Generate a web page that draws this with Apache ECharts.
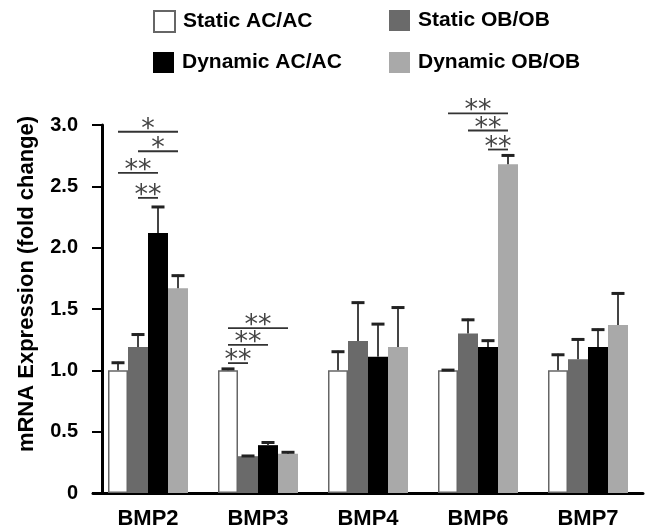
<!DOCTYPE html>
<html>
<head>
<meta charset="utf-8">
<script src="https://cdn.jsdelivr.net/npm/echarts@6/dist/echarts.min.js"></script>
<style>
html, body { margin: 0; padding: 0; background: #fff; }
#main { width: 649px; height: 529px; }
</style>
</head>
<body>
<div id="main"></div>
<script>
const genes = ["BMP2", "BMP3", "BMP4", "BMP6", "BMP7"];
const groups = ["Static AC/AC", "Static OB/OB", "Dynamic AC/AC", "Dynamic OB/OB"];

// means and upper SD
const staticAC = [1.0, 1.0, 1.0, 1.0, 1.0];
const staticACErr = [0.07, 0.02, 0.16, 0.01, 0.135];
const staticOB = [1.19, 0.30, 1.24, 1.30, 1.09];
const staticOBErr = [0.11, 0.01, 0.32, 0.12, 0.17];
const dynamicAC = [2.12, 0.39, 1.11, 1.19, 1.19];
const dynamicACErr = [0.22, 0.03, 0.275, 0.06, 0.15];
const dynamicOB = [1.67, 0.32, 1.19, 2.68, 1.37];
const dynamicOBErr = [0.11, 0.02, 0.33, 0.08, 0.265];

// significance brackets: gene index, from bar, to bar, height, marker
const sigGene = [0, 0, 0, 0, 1, 1, 1, 3, 3, 3];
const sigFrom = [0, 1, 0, 1, 0, 0, 0, 0, 1, 2];
const sigTo = [3, 3, 2, 2, 3, 2, 1, 3, 3, 3];
const sigLevel = [2.945, 2.786, 2.61, 2.406, 1.344, 1.208, 1.059, 3.094, 2.955, 2.80];
const sigMark = ["*", "*", "**", "**", "**", "**", "**", "**", "**", "**"];

const means = [staticAC, staticOB, dynamicAC, dynamicOB];
const errs = [staticACErr, staticOBErr, dynamicACErr, dynamicOBErr];
const colors = ["#ffffff", "#6a6a6a", "#000000", "#a9a9a9"];
const BAR_W = 20;

const errData = [];
means.forEach((m, g) => {
    m.forEach((v, i) => errData.push([i, g, v, errs[g][i]]));
});
const sigData = sigGene.map((gi, k) => [gi, sigFrom[k], sigTo[k], sigLevel[k], sigMark[k]]);

const renderErr = (params, api) => {
    const g = api.value(1);
    const base = api.coord([api.value(0), api.value(2)]);
    const top = api.coord([api.value(0), api.value(2) + api.value(3)]);
    const x = base[0] + (g - 1.5) * BAR_W;
    return {
        type: "group",
        children: [
            { type: "line", shape: { x1: x, y1: base[1], x2: x, y2: top[1] }, style: { stroke: "#444", lineWidth: 2 } },
            { type: "line", shape: { x1: x - 6.5, y1: top[1] + 1, x2: x + 6.5, y2: top[1] + 1 }, style: { stroke: "#222", lineWidth: 3 } },
        ],
    };
};

const renderSig = (params, api) => {
    const p = api.coord([api.value(0), api.value(3)]);
    const x1 = p[0] + (api.value(1) - 1.5) * BAR_W;
    const x2 = p[0] + (api.value(2) - 1.5) * BAR_W;
    return {
        type: "group",
        children: [
            { type: "line", shape: { x1: x1, y1: p[1], x2: x2, y2: p[1] }, style: { stroke: "#333", lineWidth: 1.8 } },
            {
                type: "text",
                style: {
                    text: api.value(4), x: (x1 + x2) / 2, y: p[1] - 2,
                    align: "center", verticalAlign: "middle",
                    fontSize: 27, fill: "#444", fontFamily: "DejaVu Sans",
                },
            },
        ],
    };
};

const legendPos = [[153, 10], [389, 10], [153, 52], [389, 52]];
const legends = groups.map((name, g) => ({
    data: [name],
    left: legendPos[g][0],
    top: legendPos[g][1],
    padding: 0,
    icon: "rect",
    itemWidth: 21,
    itemHeight: 21,
    selectedMode: false,
    textStyle: { fontSize: 21, fontWeight: "bold", color: "#000", padding: [0, 0, 0, 3] },
}));

const chart = echarts.init(document.getElementById("main"));
chart.setOption({
    animation: false,
    textStyle: { fontFamily: "Liberation Sans" },
    legend: legends,
    grid: { left: 93, right: 6, top: 125, bottom: 36, outerBoundsMode: "none" },
    xAxis: {
        type: "category",
        data: genes,
        axisLine: { lineStyle: { color: "#000", width: 3 } },
        axisTick: { show: false },
        axisLabel: { fontSize: 22, fontWeight: "bold", color: "#000", margin: 15 },
    },
    yAxis: {
        type: "value",
        min: 0,
        max: 3,
        interval: 0.5,
        offset: -9,
        name: "mRNA Expression (fold change)",
        nameLocation: "middle",
        nameGap: 64,
        nameTextStyle: { fontSize: 22, fontWeight: "bold", color: "#000", padding: [0, 0, 0, 50] },
        axisLine: { show: true, lineStyle: { color: "#000", width: 3 } },
        axisTick: { show: true, length: 10, lineStyle: { color: "#000", width: 2 } },
        splitLine: { show: false },
        axisLabel: {
            fontSize: 20, fontWeight: "bold", color: "#000", margin: 24,
            formatter: (v) => (v === 0 ? "0" : v.toFixed(1)),
        },
    },
    series: [
        ...groups.map((name, g) => ({
            name: name,
            type: "bar",
            data: means[g],
            barWidth: BAR_W,
            barGap: "0%",
            itemStyle: g === 0
                ? { color: colors[g], borderColor: "#666", borderWidth: 1.5 }
                : { color: colors[g] },
        })),
        { type: "custom", data: errData, renderItem: renderErr, clip: false, z: 3, silent: true },
        { type: "custom", data: sigData, renderItem: renderSig, clip: false, z: 3, silent: true },
    ],
});
</script>
</body>
</html>
